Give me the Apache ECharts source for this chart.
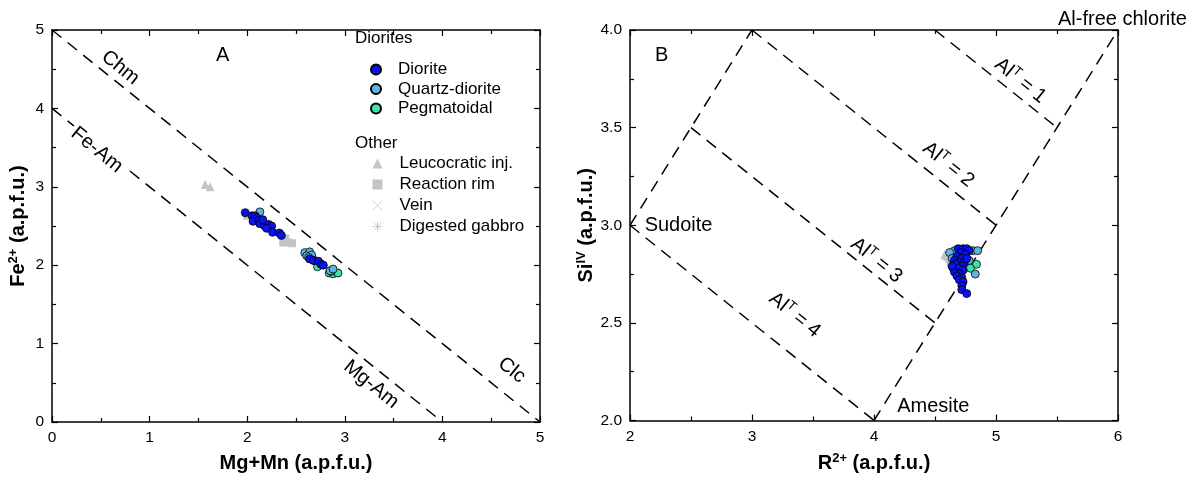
<!DOCTYPE html>
<html><head><meta charset="utf-8">
<script src="https://cdn.jsdelivr.net/npm/echarts@6/dist/echarts.min.js"></script>
<style>html,body{margin:0;padding:0;background:#fff}#c{width:1193px;height:478px}</style>
</head><body><div id="c"></div>
<script>
// ---------- data: panel A (Fe2+ vs Mg+Mn) ----------
const dioriteA = [[1.98,2.67],[2.05,2.63],[2.08,2.63],[2.10,2.60],[2.06,2.56],[2.12,2.57],[2.15,2.55],[2.13,2.53],[2.18,2.50],[2.22,2.52],[2.25,2.50],[2.20,2.47],[2.26,2.42],[2.33,2.41],[2.35,2.38],[2.16,2.58],[2.64,2.08],[2.68,2.06],[2.73,2.05],[2.76,2.01],[2.78,2.00]];
const quartzA = [[2.13,2.68],[2.59,2.16],[2.64,2.17],[2.61,2.12],[2.66,2.13],[2.63,2.10],[2.69,2.06],[2.75,2.02],[2.85,1.93],[2.88,1.95]];
const pegA = [[2.72,1.98],[2.84,1.90],[2.88,1.89],[2.93,1.90],[2.86,1.92]];
const leucoA = [[1.57,3.03],[1.62,3.00]];
const rimA = [[2.00,2.63],[2.37,2.29],[2.39,2.34],[2.42,2.29],[2.46,2.28]];
// ---------- data: panel B (SiIV vs R2+) ----------
const dioriteB = [[4.69,2.88],[4.73,2.88],[4.76,2.88],[4.78,2.87],[4.71,2.86],[4.75,2.85],[4.68,2.84],[4.72,2.83],[4.66,2.82],[4.70,2.81],[4.74,2.81],[4.67,2.80],[4.72,2.79],[4.65,2.78],[4.69,2.78],[4.73,2.77],[4.66,2.76],[4.70,2.75],[4.68,2.74],[4.72,2.73],[4.70,2.72],[4.73,2.71],[4.72,2.69],[4.72,2.67],[4.76,2.65],[4.64,2.79],[4.76,2.83]];
const quartzB = [[4.66,2.87],[4.62,2.86],[4.81,2.87],[4.85,2.87],[4.83,2.75],[4.78,2.82],[4.64,2.83]];
const pegB = [[4.81,2.80],[4.84,2.80],[4.79,2.78]];
const leucoB = [[4.58,2.85],[4.62,2.83],[4.60,2.84]];
const rimB = [[4.63,2.81],[4.66,2.78]];
// ---------- reference lines ----------
const linesA = [[[0,5],[5,0]],[[0,4],[4,0]]];
const linesB = [[[2,3],[3,4]],[[4,2],[6,4]],[[2,3],[4,2]],[[2.5,3.5],[4.5,2.5]],[[3,4],[5,3]],[[4.5,4],[5.5,3.5]]];
// ---------- annotations (data coordinates) ----------
const lineLabelsA = [['Chm',0.70,4.52],['Fe-Am',0.46,3.47],['Mg-Am',3.27,0.48],['Clc',4.71,0.66]];
const lineLabelsB = [['Al{t|T} = 1',5.20,3.74],['Al{t|T} = 2',4.61,3.31],['Al{t|T} = 3',4.02,2.82],['Al{t|T} = 4',3.35,2.54]];
const fieldLabelsB = [['Sudoite',2.12,3.0],['Amesite',4.19,2.07]];
// ---------- tick setup ----------
const ticksA = {min:0, max:5, interval:1};
const ticksBx = {min:2, max:6, interval:1};
const ticksBy = {min:2, max:4, interval:0.5};

const FONT = 'Liberation Sans, Arial, sans-serif';
const cDior = '#0a12f2', cQz = '#62b4e0', cPeg = '#3fe4a4', cGray = '#c4c4c4';
const chart = echarts.init(document.getElementById('c'), null, {renderer:'canvas'});

function axis(t, pos, grid, showLabel, fmt, name, gap) {
  const a = {
    type:'value', gridIndex:grid, position:pos, min:t.min, max:t.max, interval:t.interval,
    axisLine:{show:true, onZero:false, lineStyle:{color:'#000', width:1.5}},
    axisTick:{show:true, inside:true, length:6, lineStyle:{color:'#000', width:1.2}},
    minorTick:{show:true, splitNumber:2, length:4, lineStyle:{color:'#000', width:1.2}},
    splitLine:{show:false},
    axisLabel:{show:showLabel, color:'#000', fontSize:15.5, fontFamily:FONT, margin:8, formatter:fmt},
  };
  if (name) {
    a.name = name; a.nameLocation = 'middle'; a.nameGap = gap;
    a.nameTextStyle = {color:'#000', fontSize:20, fontWeight:'bold', fontFamily:FONT,
      rich:{s:{fontSize:13, fontWeight:'bold', fontFamily:FONT, verticalAlign:'top', padding:[0,0,10,0]},
            n:{fontSize:20, fontWeight:'bold', fontFamily:FONT}}};
  }
  return a;
}
const f0 = v => String(v);
const f1 = v => v.toFixed(1);

function pts(name, data, xi, color, symbol, size, border) {
  return {type:'scatter', name, data, xAxisIndex:xi, yAxisIndex:xi, symbol, symbolSize:size,
    itemStyle:{color, borderColor: border ? '#000' : color, borderWidth: border ? 0.8 : 0, opacity:1},
    emphasis:{disabled:true}, z:5};
}
function lineSeries(data, xi) {
  return data.map(seg => ({type:'line', data:seg, xAxisIndex:xi, yAxisIndex:xi, symbol:'none', silent:true,
    lineStyle:{color:'#000', width:1.5, type:[12,8]}, z:2}));
}
function labelSeries(list, xi, rot, align, bg) {
  return {type:'scatter', xAxisIndex:xi, yAxisIndex:xi, symbolSize:1, silent:true, clip:false,
    itemStyle:{color:'rgba(255,255,255,0)'},
    data:list.map(d => ({name:d[0], value:[d[1], d[2]]})),
    label:{show:true, position:'inside', formatter:'{b}', rotate:rot, align:align, verticalAlign:'middle',
      color:'#000', opacity:1, textBorderWidth:0, fontSize:20, fontFamily:FONT,
      backgroundColor: bg || 'transparent', padding: bg ? [0,3] : 0,
      rich:{t:{fontSize:13, fontFamily:FONT, verticalAlign:'top', padding:[0,0,10,0]}}}, z:3};
}
const crossPath = 'path://M0,0L10,10M10,0L0,10';
const starPath = 'path://M5,0L5,10M0,5L10,5M1.5,1.5L8.5,8.5M8.5,1.5L1.5,8.5';
const otherStyle = {color:'none', borderColor:cGray, borderWidth:1};

const series = [
  pts('Leucocratic inj.', leucoA, 0, cGray, 'triangle', 9, false),
  pts('Reaction rim', rimA, 0, cGray, 'rect', 8, false),
  {type:'scatter', name:'Vein', data:[], xAxisIndex:0, yAxisIndex:0, symbol:crossPath, symbolSize:9, itemStyle:otherStyle},
  {type:'scatter', name:'Digested gabbro', data:[], xAxisIndex:0, yAxisIndex:0, symbol:starPath, symbolSize:9, itemStyle:otherStyle},
  pts('Pegmatoidal', pegA, 0, cPeg, 'circle', 8, true),
  pts('Quartz-diorite', quartzA, 0, cQz, 'circle', 8, true),
  pts('Diorite', dioriteA, 0, cDior, 'circle', 8, true),
  pts('Leucocratic inj.', leucoB, 2, cGray, 'triangle', 9, false),
  pts('Reaction rim', rimB, 2, cGray, 'rect', 8, false),
  pts('Pegmatoidal', pegB, 2, cPeg, 'circle', 8, true),
  pts('Quartz-diorite', quartzB, 2, cQz, 'circle', 8, true),
  pts('Diorite', dioriteB, 2, cDior, 'circle', 8, true),
  ...lineSeries(linesA, 0),
  ...lineSeries(linesB, 2),
  labelSeries(lineLabelsA.slice(0,1), 0, -39, 'center'),
  labelSeries(lineLabelsA.slice(1,2), 0, -39, 'center', '#fff'),
  labelSeries(lineLabelsA.slice(2), 0, -39, 'center'),
  labelSeries(lineLabelsB, 2, -39, 'center'),
  labelSeries(fieldLabelsB, 2, 0, 'left'),
];

const legendBase = {orient:'vertical', left:370, itemWidth:10, itemHeight:10, selectedMode:false,
  textStyle:{color:'#000', fontSize:17, fontFamily:FONT, lineHeight:16, padding:[0,0,0,12]}, padding:0};

chart.setOption({
  animation:false,
  backgroundColor:'#fff',
  textStyle:{fontFamily:FONT},
  grid:[{left:52, top:30, width:488, height:396}, {left:630, top:30, width:488, height:396}],
  xAxis:[
    axis(ticksA,'bottom',0,true,f0,'Mg+Mn (a.p.f.u.)',31),
    axis(ticksA,'top',0,false,f0),
    axis(ticksBx,'bottom',1,true,f0,'{n|R}{s|2+}{n| (a.p.f.u.)}',31),
    axis(ticksBx,'top',1,false,f0),
  ],
  yAxis:[
    axis(ticksA,'left',0,true,f0,'{n|Fe}{s|2+}{n| (a.p.f.u.)}',22),
    axis(ticksA,'right',0,false,f0),
    axis(ticksBy,'left',1,true,f1,'{n|Si}{s|IV}{n| (a.p.f.u.)}',32),
    axis(ticksBy,'right',1,false,f1),
  ],
  legend:[
    Object.assign({}, legendBase, {top:61, itemGap:2.5, data:['Diorite','Quartz-diorite','Pegmatoidal']}),
    Object.assign({}, legendBase, {top:155, itemGap:4, data:[
      'Leucocratic inj.','Reaction rim',
      {name:'Vein', itemStyle:{color:'none', borderColor:cGray, borderWidth:1}},
      {name:'Digested gabbro', itemStyle:{color:'none', borderColor:cGray, borderWidth:1}}]}),
  ],
  graphic:[
    {type:'text', left:355, top:30, style:{text:'Diorites', fontSize:17, fontFamily:FONT, fill:'#000'}},
    {type:'text', left:355, top:135, style:{text:'Other', fontSize:17, fontFamily:FONT, fill:'#000'}},
    {type:'text', left:216, top:45, style:{text:'A', fontSize:20, fontFamily:FONT, fill:'#000'}},
    {type:'text', left:655, top:45, style:{text:'B', fontSize:20, fontFamily:FONT, fill:'#000'}},
    {type:'text', left:1058, top:9, style:{text:'Al-free chlorite', fontSize:20, fontFamily:FONT, fill:'#000'}},
  ],
  series
});
</script>
</body></html>
